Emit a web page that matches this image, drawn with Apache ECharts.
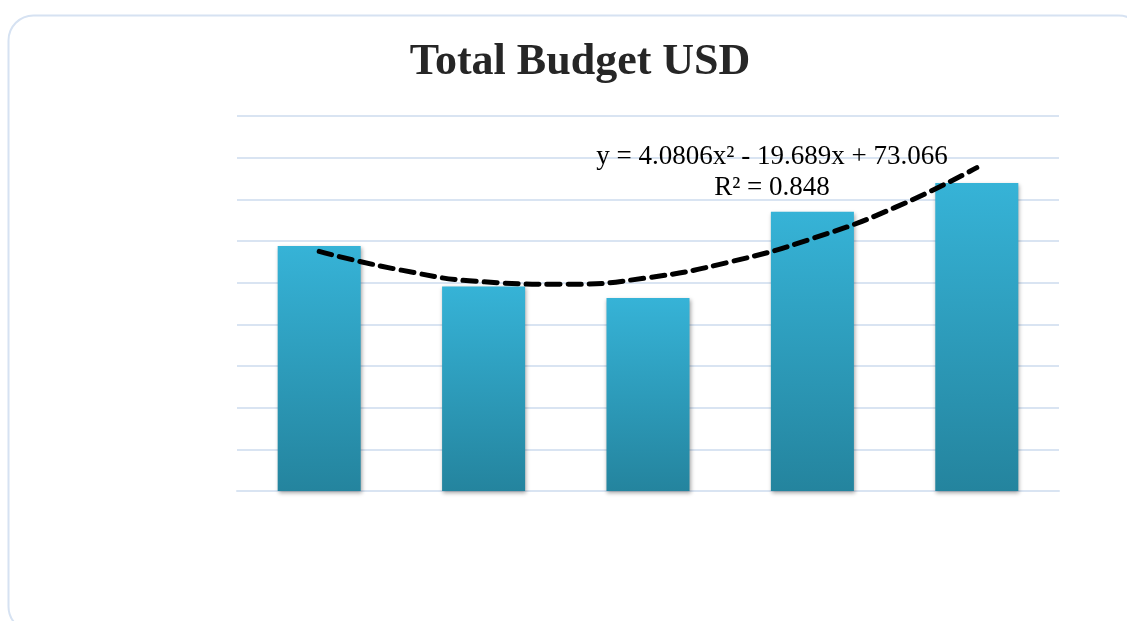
<!DOCTYPE html>
<html>
<head>
<meta charset="utf-8">
<script src="https://cdn.jsdelivr.net/npm/echarts@6/dist/echarts.min.js"></script>
<style>
  html, body { margin: 0; padding: 0; background: #ffffff; }
  #chart { width: 1127px; height: 621px; }
</style>
</head>
<body>
<div id="chart"></div>
<script>
// values
const categories = ["1", "2", "3", "4", "5"];
const budget = [58.8, 49.1, 46.3, 67.0, 73.9];
// polynomial trendline as drawn, sampled at half steps
const trendX = [1, 1.5, 2, 2.5, 3, 3.5, 4, 4.5, 5];
const trendY = [57.5, 53.0, 50.2, 49.6, 51.2, 55.0, 60.6, 68.0, 77.6];
const equationText = "y = 4.0806x\u00b2 - 19.689x + 73.066";
const rSquaredText = "R\u00b2 = 0.848";

const serif = "'Liberation Serif', 'DejaVu Serif', serif";
const gridColor = "#d9e4f2";

let chart = echarts.init(document.getElementById("chart"));

let option = {
  animation: false,
  backgroundColor: "#ffffff",
  title: {
    text: "Total Budget USD",
    left: 575,
    top: 36,
    textAlign: "center",
    textStyle: {
      fontFamily: serif,
      fontWeight: "bold",
      fontSize: 44,
      color: "#262626",
    },
  },
  graphic: [
    {
      type: "rect",
      left: 6,
      top: 13,
      shape: { width: 1135, height: 616, r: 25 },
      style: { fill: "none", stroke: "#d6e2f2", lineWidth: 2 },
      z: -1,
    },
    {
      type: "text",
      x: 772,
      y: 157,
      z: 100,
      style: {
        text: equationText,
        font: "27px " + serif,
        fill: "#000000",
        align: "center",
        verticalAlign: "middle",
      },
    },
    {
      type: "text",
      x: 772,
      y: 188,
      z: 100,
      style: {
        text: rSquaredText,
        font: "27px " + serif,
        fill: "#000000",
        align: "center",
        verticalAlign: "middle",
      },
    },
  ],
  grid: {
    left: 237,
    right: 68,
    top: 116,
    bottom: 130,
  },
  xAxis: [
    {
      type: "category",
      data: categories,
      boundaryGap: true,
      axisLine: { show: true, lineStyle: { color: gridColor, width: 2 } },
      axisTick: { show: false },
      axisLabel: { show: false },
    },
    {
      type: "value",
      min: 0.5,
      max: 5.5,
      show: false,
    },
  ],
  yAxis: {
    type: "value",
    min: 0,
    max: 90,
    interval: 10,
    axisLine: { show: false },
    axisTick: { show: false },
    axisLabel: { show: false },
    splitLine: { lineStyle: { color: gridColor, width: 2 } },
  },
  series: [
    {
      name: "Total Budget USD",
      type: "bar",
      xAxisIndex: 0,
      barWidth: "50.5%",
      data: budget,
      itemStyle: {
        color: new echarts.graphic.LinearGradient(0, 0, 0, 1, [
          { offset: 0, color: "#36b3d7" },
          { offset: 1, color: "#24849e" },
        ]),
        shadowColor: "rgba(0,0,0,0.35)",
        shadowBlur: 4,
        shadowOffsetX: 1,
        shadowOffsetY: 2,
      },
    },
    {
      name: "Trend",
      type: "line",
      xAxisIndex: 1,
      smooth: true,
      symbol: "none",
      data: trendX.map((x, i) => [x, trendY[i]]),
      lineStyle: {
        color: "#000000",
        width: 5,
        type: [13, 8],
        cap: "round",
      },
      z: 5,
    },
  ],
};

chart.setOption(option);
</script>
</body>
</html>
